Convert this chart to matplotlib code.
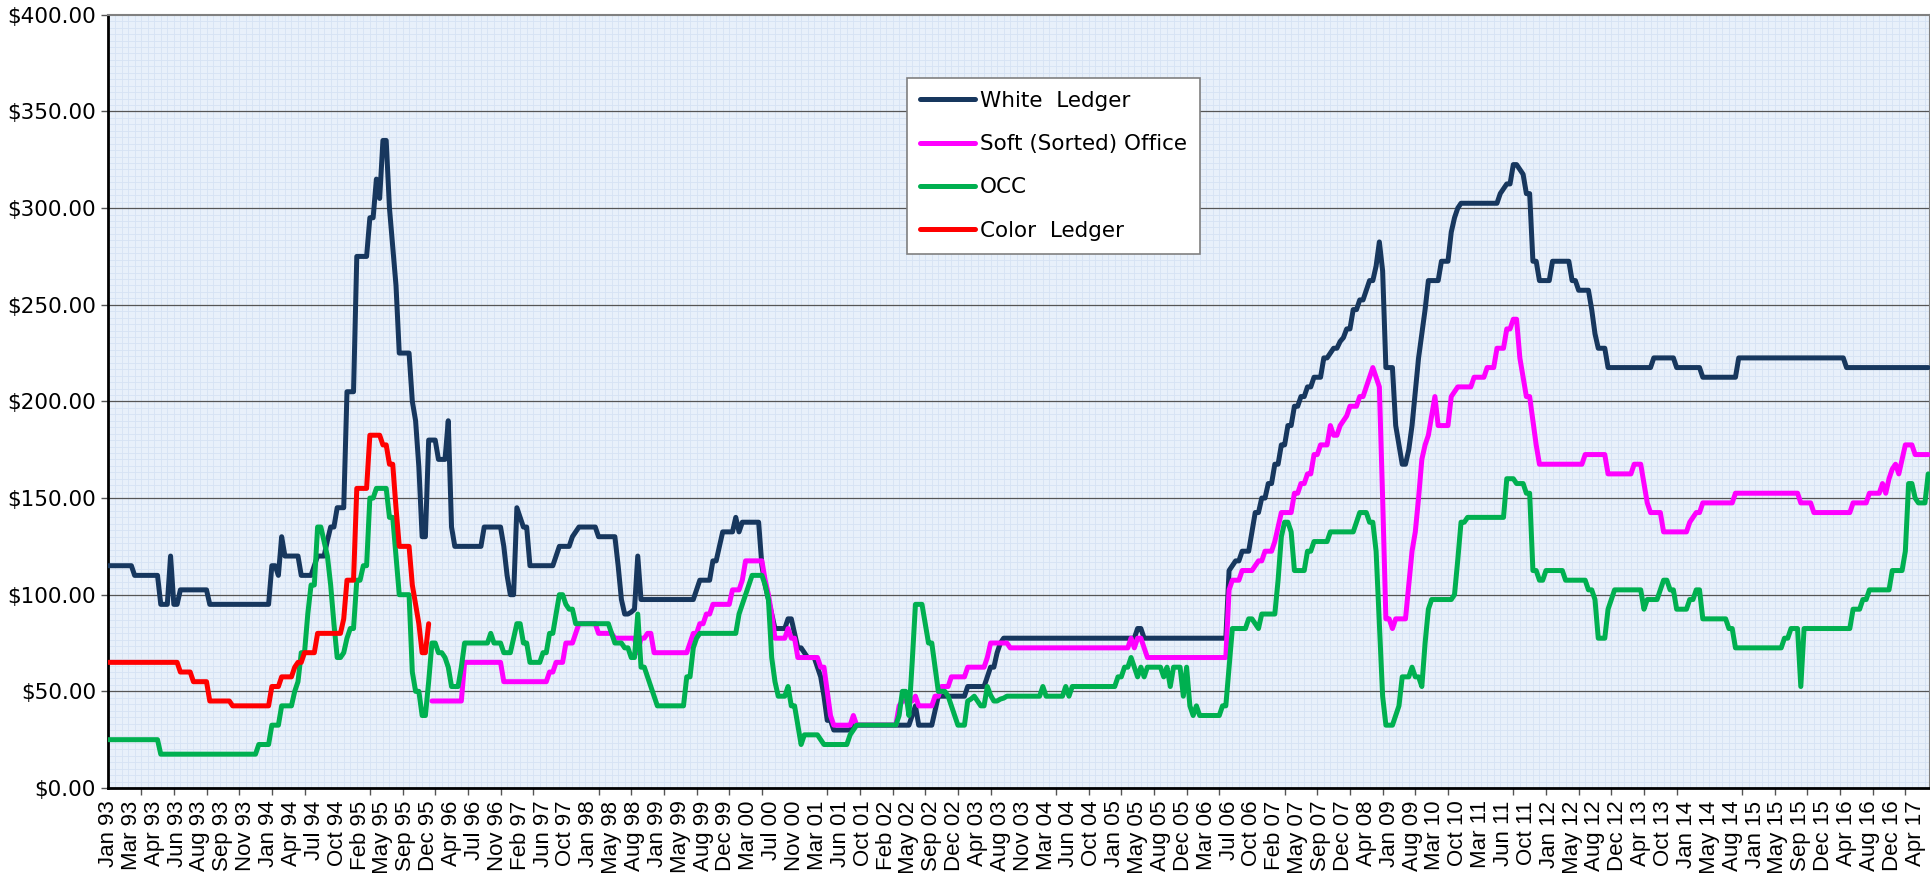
import numpy as np
import matplotlib
matplotlib.use("Agg")
import matplotlib.pyplot as plt
from matplotlib.ticker import FixedLocator, FuncFormatter

N_POINTS = 558

# run starts: (first observation index, price in $/ton), held until next start
WHITE_LEDGER = [(0, 115), (8, 110), (16, 95), (19, 120), (20, 95), (22, 102.5), (31, 95), (50, 115),
                (52, 110), (53, 130), (54, 120), (59, 110), (63, 115), (64, 120), (67, 128), (68, 135),
                (70, 145), (73, 205), (76, 275), (80, 295), (82, 315), (83, 305), (84, 335), (86, 300),
                (87, 280), (88, 260), (89, 225), (93, 200), (94, 190), (95, 166), (96, 130), (98, 180),
                (101, 170), (104, 190), (105, 135), (106, 125), (115, 135), (121, 125), (122, 110),
                (123, 100), (125, 145), (126, 140), (127, 135), (129, 115), (137, 120), (138, 125),
                (142, 130), (143, 132.5), (144, 135), (150, 130), (156, 115), (157, 97.5), (158, 90),
                (160, 91), (161, 92.5), (162, 120), (163, 97.5), (180, 102.5), (181, 107.5), (185, 117.5),
                (187, 125), (188, 132.5), (192, 140), (193, 132.5), (194, 137.5), (200, 115), (201, 105),
                (202, 97.5), (203, 90), (204, 82.5), (208, 87.5), (210, 80), (211, 72.5), (213, 70),
                (214, 67.5), (217, 62.5), (218, 57.5), (219, 47.5), (220, 35), (222, 30), (228, 32.5),
                (246, 37.5), (247, 42.5), (248, 32.5), (253, 40), (254, 47.5), (263, 52.5), (269, 57.5),
                (270, 62.5), (272, 70), (273, 75), (274, 77.5), (315, 82.5), (317, 77.5), (343, 112.5),
                (344, 115), (345, 117.5), (347, 122.5), (350, 132.5), (351, 142.5), (353, 150),
                (355, 157.5), (357, 167.5), (359, 177.5), (361, 187.5), (363, 197.5), (365, 202.5),
                (367, 207.5), (369, 212.5), (372, 222.5), (374, 225), (375, 227.5), (377, 231), (378, 233),
                (379, 237.5), (381, 247.5), (383, 252.5), (385, 257.5), (386, 262.5), (388, 270),
                (389, 282.5), (390, 267.5), (391, 217.5), (394, 187.5), (395, 177.5), (396, 167.5),
                (398, 175), (399, 187.5), (400, 205), (401, 222.5), (402, 235), (403, 247.5), (404, 262.5),
                (408, 272.5), (411, 287.5), (412, 295), (413, 300), (414, 302.5), (426, 307.5), (427, 310),
                (428, 312.5), (430, 322.5), (432, 320), (433, 317.5), (434, 307.5), (436, 272.5),
                (438, 262.5), (442, 272.5), (448, 262.5), (450, 257.5), (454, 247.5), (455, 235),
                (456, 227.5), (459, 217.5), (473, 222.5), (480, 217.5), (488, 212.5), (499, 222.5),
                (532, 217.5)]

SOFT_OFFICE = [(99, 45), (109, 65), (121, 55), (135, 60), (137, 65), (140, 75), (143, 80), (144, 85),
               (150, 80), (155, 77.5), (162, 70), (163, 77.5), (165, 80), (167, 70), (178, 75), (179, 80),
               (181, 85), (183, 90), (185, 95), (191, 102.5), (194, 107.5), (195, 117.5), (201, 107.5),
               (202, 100), (203, 90), (204, 77.5), (208, 82.5), (209, 77.5), (211, 67.5), (218, 62.5),
               (220, 50), (221, 37.5), (222, 32.5), (228, 37.5), (229, 32.5), (242, 42.5), (243, 45),
               (247, 47.5), (248, 42.5), (253, 47.5), (255, 52.5), (258, 57.5), (263, 62.5), (269, 67.5),
               (270, 75), (276, 72.5), (313, 77.5), (314, 72.5), (315, 77.5), (317, 72.5), (318, 67.5),
               (343, 102.5), (344, 107.5), (347, 112.5), (351, 115), (352, 117.5), (354, 122.5),
               (357, 127.5), (358, 135), (359, 142.5), (363, 152.5), (365, 157.5), (367, 162.5),
               (369, 172.5), (371, 177.5), (374, 187.5), (375, 182.5), (377, 187.5), (378, 190),
               (379, 192.5), (380, 197.5), (383, 202.5), (385, 207.5), (386, 212.5), (387, 217.5),
               (388, 212.5), (389, 207.5), (390, 150), (391, 87.5), (393, 82.5), (394, 87.5), (398, 105),
               (399, 122.5), (400, 132.5), (401, 150), (402, 170), (403, 177.5), (404, 182.5),
               (405, 192.5), (406, 202.5), (407, 187.5), (411, 202.5), (412, 205), (413, 207.5),
               (418, 212.5), (422, 217.5), (425, 227.5), (428, 237.5), (430, 242.5), (432, 222.5),
               (433, 212.5), (434, 202.5), (436, 190), (437, 177.5), (438, 167.5), (452, 172.5),
               (459, 162.5), (467, 167.5), (470, 157.5), (471, 147.5), (472, 142.5), (476, 132.5),
               (484, 137.5), (485, 140), (486, 142.5), (488, 147.5), (498, 152.5), (518, 147.5),
               (522, 142.5), (534, 147.5), (539, 152.5), (543, 157.5), (544, 152.5), (545, 160),
               (546, 165), (547, 167.5), (548, 162.5), (549, 170), (550, 177.5), (553, 172.5)]

OCC = [(0, 25), (16, 17.5), (46, 22.5), (50, 32.5), (53, 42.5), (57, 50), (58, 55), (59, 70), (61, 90),
       (62, 105), (64, 135), (66, 127.5), (67, 120), (68, 105), (69, 85), (70, 67.5), (72, 70), (73, 77.5),
       (74, 82.5), (76, 107.5), (78, 115), (80, 150), (82, 155), (86, 140), (88, 120), (89, 100), (93, 60),
       (94, 50), (96, 37.5), (98, 55), (99, 75), (101, 70), (103, 67.5), (104, 62.5), (105, 52.5),
       (108, 62.5), (109, 75), (117, 80), (118, 75), (121, 70), (124, 77.5), (125, 85), (127, 75), (129, 65),
       (133, 70), (135, 80), (137, 90), (138, 100), (140, 95), (141, 92.5), (143, 85), (154, 80), (155, 75),
       (158, 72.5), (160, 67.5), (162, 90), (163, 62.5), (165, 57.5), (166, 52.5), (167, 47.5), (168, 42.5),
       (177, 57.5), (179, 72.5), (180, 77.5), (181, 80), (193, 90), (194, 95), (195, 100), (196, 105),
       (197, 110), (201, 105), (202, 97.5), (203, 67.5), (204, 55), (205, 47.5), (208, 52.5), (209, 42.5),
       (211, 32.5), (212, 22.5), (213, 27.5), (218, 25), (219, 22.5), (227, 27.5), (228, 30), (229, 32.5),
       (242, 37.5), (243, 50), (245, 37.5), (246, 65), (247, 95), (250, 85), (251, 75), (253, 62.5),
       (254, 50), (257, 47.5), (258, 42.5), (259, 37.5), (260, 32.5), (263, 45), (264, 46), (265, 47.5),
       (266, 45), (267, 42.5), (269, 52.5), (270, 48), (271, 45), (273, 46), (274, 46.5), (275, 47.5),
       (286, 52.5), (287, 47.5), (293, 52.5), (294, 47.5), (295, 52.5), (309, 57.5), (311, 62.5),
       (313, 67.5), (314, 62.5), (315, 57.5), (316, 62.5), (317, 57.5), (318, 62.5), (323, 57.5),
       (324, 62.5), (325, 52.5), (326, 62.5), (329, 47.5), (330, 62.5), (331, 42.5), (332, 37.5),
       (333, 42.5), (334, 37.5), (341, 42.5), (343, 62.5), (344, 82.5), (349, 87.5), (351, 85), (352, 82.5),
       (353, 90), (358, 107.5), (359, 130), (360, 137.5), (362, 132.5), (363, 112.5), (367, 122.5),
       (369, 127.5), (374, 132.5), (382, 137.5), (383, 142.5), (386, 137.5), (388, 122.5), (389, 85),
       (390, 47.5), (391, 32.5), (394, 37.5), (395, 42.5), (396, 57.5), (399, 62.5), (400, 57.5),
       (402, 52.5), (403, 75), (404, 92.5), (405, 97.5), (412, 100), (413, 118), (414, 137.5), (416, 140),
       (428, 160), (431, 157.5), (434, 152.5), (436, 112.5), (438, 107.5), (440, 112.5), (446, 107.5),
       (453, 102.5), (455, 97.5), (456, 77.5), (459, 92.5), (460, 97.5), (461, 102.5), (470, 92.5),
       (471, 97.5), (475, 102.5), (476, 107.5), (478, 102.5), (480, 92.5), (484, 97.5), (486, 102.5),
       (488, 87.5), (496, 82.5), (498, 72.5), (513, 77.5), (515, 82.5), (518, 52.5), (519, 82.5),
       (534, 92.5), (537, 97.5), (539, 102.5), (546, 112.5), (550, 122.5), (551, 157.5), (553, 150),
       (554, 147.5), (557, 162.5)]

COLOR_LEDGER = [(0, 65), (22, 60), (26, 55), (31, 45), (38, 42.5), (50, 52.5), (53, 57.5), (57, 62.5),
                (58, 65), (60, 70), (64, 80), (72, 87.5), (73, 107.5), (76, 155), (80, 182.5),
                (84, 177.5), (86, 167.5), (88, 145), (89, 125), (93, 105), (94, 95), (95, 85), (96, 70),
                (98, 85)]
COLOR_LEDGER_END = 99

# one label every 7 observations
DATE_LABELS = ["Jan 93", "Mar 93", "Apr 93", "Jun 93", "Aug 93", "Sep 93", "Nov 93", "Jan 94",
               "Apr 94", "Jul 94", "Oct 94", "Feb 95", "May 95", "Sep 95", "Dec 95", "Apr 96",
               "Jul 96", "Nov 96", "Feb 97", "Jun 97", "Oct 97", "Jan 98", "May 98", "Aug 98",
               "Jan 99", "May 99", "Aug 99", "Dec 99", "Mar 00", "Jul 00", "Nov 00", "Mar 01",
               "Jun 01", "Oct 01", "Feb 02", "May 02", "Sep 02", "Dec 02", "Apr 03", "Aug 03",
               "Nov 03", "Mar 04", "Jun 04", "Oct 04", "Jan 05", "May 05", "Aug 05", "Dec 05",
               "Mar 06", "Jul 06", "Oct 06", "Feb 07", "May 07", "Sep 07", "Dec 07", "Apr 08",
               "Jan 09", "Aug 09", "Mar 10", "Oct 10", "Mar 11", "Jun 11", "Oct 11", "Jan 12",
               "May 12", "Aug 12", "Dec 12", "Apr 13", "Oct 13", "Jan 14", "May 14", "Aug 14",
               "Jan 15", "May 15", "Sep 15", "Dec 15", "Apr 16", "Aug 16", "Dec 16", "Apr 17"]
LABEL_STEP = 7
TICK_STEP = 10


def expand(runs, end):
    vals = np.full(N_POINTS, np.nan)
    starts = [s for s, _ in runs] + [end]
    for k, (s, v) in enumerate(runs):
        vals[s:starts[k + 1]] = v
    return vals


x = np.arange(N_POINTS)
series = [
    ("White  Ledger", expand(WHITE_LEDGER, N_POINTS), "#17375E"),
    ("Soft (Sorted) Office", expand(SOFT_OFFICE, N_POINTS), "#FF00FF"),
    ("OCC", expand(OCC, N_POINTS), "#00B050"),
    ("Color  Ledger", expand(COLOR_LEDGER, COLOR_LEDGER_END), "#FF0000"),
]

W, H = 1931, 873
fig = plt.figure(figsize=(W / 100, H / 100), dpi=100)
fig.patch.set_facecolor("white")
left, right, top, bottom = 108.5, 1930, 14.8, 788
ax = fig.add_axes([left / W, (H - bottom) / H, (right - left) / W, (bottom - top) / H])
ax.set_facecolor("#E8F0FA")

xmax = (right - left) / 3.267
ax.set_xlim(0, xmax)
ax.set_ylim(0, 400)

# fine texture of the plot area
for gx in np.arange(0, xmax, 2):
    ax.axvline(gx, color="#D6E2F4", lw=0.6, zorder=0)
for gy in np.arange(0, 400, 10 / 3):
    ax.axhline(gy, color="#D6E2F4", lw=0.6, zorder=0)
for gy in range(50, 400, 50):
    ax.axhline(gy, color="#555555", lw=0.9, zorder=1)

for name, vals, col in series:
    ax.plot(x, vals, color=col, lw=3.6, label=name, solid_joinstyle="round",
            solid_capstyle="round", zorder=3)

# axis styling
for side in ("left", "bottom"):
    ax.spines[side].set_color("black")
    ax.spines[side].set_linewidth(2)
for side in ("top", "right"):
    ax.spines[side].set_color("#808080")
    ax.spines[side].set_linewidth(1.5)

ax.yaxis.set_major_locator(FixedLocator(np.arange(0, 401, 50)))
ax.yaxis.set_major_formatter(FuncFormatter(lambda v, p: "${:,.2f}".format(v)))
ax.tick_params(axis="y", which="major", length=5, width=1, color="#555555", pad=4,
               labelsize=15.5, labelcolor="black")

label_pos = np.arange(len(DATE_LABELS)) * LABEL_STEP
ax.set_xticks(label_pos)
ax.set_xticklabels(DATE_LABELS, rotation=90, fontsize=16, family="Liberation Sans",
                   va="top", ha="center")
ax.tick_params(axis="x", which="major", length=0, pad=9)
ax.xaxis.set_minor_locator(FixedLocator(np.arange(0, xmax, TICK_STEP)))
ax.tick_params(axis="x", which="minor", length=5, width=1, color="#555555")

leg = ax.legend(loc="upper left", bbox_to_anchor=(907 / W, 1 - 78 / H),
                bbox_transform=fig.transFigure, fontsize=15.5, frameon=True, fancybox=False,
                handlelength=2.55, handletextpad=0.25, labelspacing=1.08, borderpad=0.6,
                borderaxespad=0, framealpha=1)
leg.get_frame().set_edgecolor("#808080")
leg.get_frame().set_linewidth(1.2)
for h in leg.get_lines():
    h.set_linewidth(3.6)

fig.savefig("out.png", dpi=100)
